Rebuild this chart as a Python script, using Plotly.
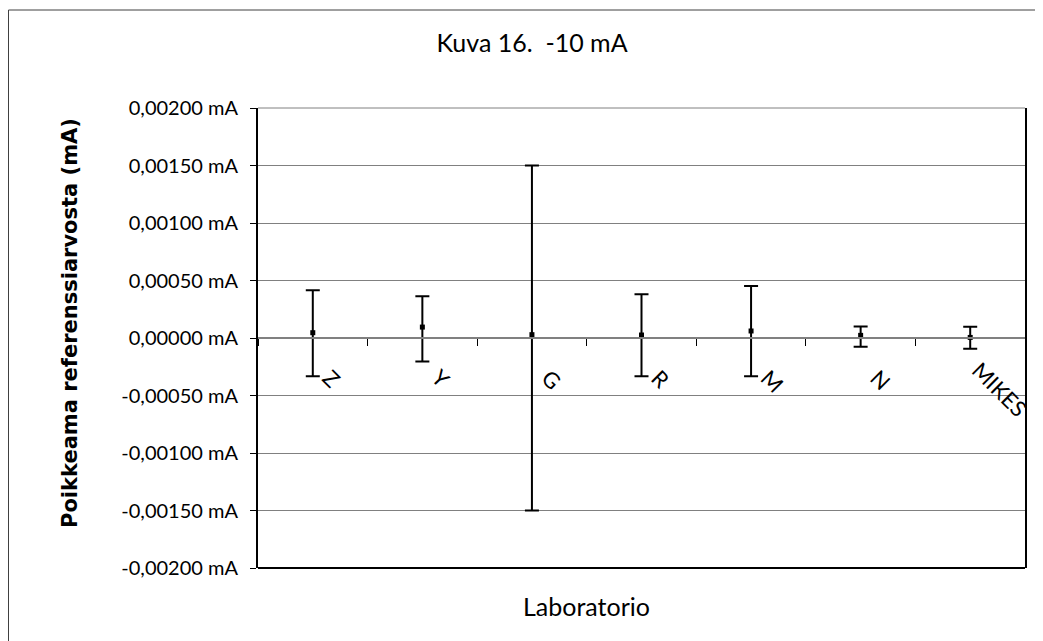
import plotly.graph_objects as go

labs = ["Z", "Y", "G", "R", "M", "N", "MIKES"]
vals = [0.000046, 0.000095, 0.000029, 0.000026, 0.000061, 0.000023, 0.000005]
err_plus = [0.000370, 0.000269, 0.001471, 0.000355, 0.000392, 0.000076, 0.000093]
err_minus = [0.000378, 0.000300, 0.001529, 0.000358, 0.000393, 0.000098, 0.000098]

ytick_vals = [0.002, 0.0015, 0.001, 0.0005, 0.0, -0.0005, -0.001, -0.0015, -0.002]
ytick_text = ["0,00200 mA", "0,00150 mA", "0,00100 mA", "0,00050 mA", "0,00000 mA",
              "-0,00050 mA", "-0,00100 mA", "-0,00150 mA", "-0,00200 mA"]

# page has an 8px body margin; size the figure so it fits the 1043x641 window
OFF = 8
W, H = 1043 - OFF, 641 - OFF
L, T = 258 - OFF, 108 - OFF
pw, ph = 767, 460
R = W - L - pw
B = H - T - ph

def px(x):  # page pixel x -> paper
    return (x - OFF - L) / pw

def py(y):  # page pixel y -> paper
    return (T + ph - (y - OFF)) / ph

fig = go.Figure()
fig.add_trace(go.Scatter(
    x=labs, y=vals, mode="markers",
    marker=dict(symbol="square", size=5, color="black"),
    error_y=dict(type="data", symmetric=False, array=err_plus, arrayminus=err_minus,
                 color="black", thickness=2, width=7),
    showlegend=False, hoverinfo="skip",
))
# invisible trace on the tick-only overlay axis
fig.add_trace(go.Scatter(x=labs, y=vals, xaxis="x2", mode="markers",
                         marker=dict(opacity=0), showlegend=False, hoverinfo="skip"))

fnt = "Lato, 'DejaVu Sans', sans-serif"
# leading spaces push the slanted labels off the tick, as in the reference
xtick_text = [("\u00a0" * (2 if len(s) > 1 else 4)) + s for s in labs]

fig.update_layout(
    width=W, height=H,
    margin=dict(l=L, r=R, t=T, b=B, autoexpand=False),
    paper_bgcolor="white", plot_bgcolor="white",
    font=dict(family=fnt, size=20, color="black"),
    title=dict(text="Kuva 16.\u00a0 -10 mA", x=(532 - OFF) / W, y=1 - (43 - OFF) / H,
               xanchor="center", yanchor="middle",
               font=dict(family=fnt, size=25, color="black")),
    xaxis=dict(
        type="category", range=[-0.5, 6.5], automargin=False,
        tickvals=labs, ticktext=xtick_text,
        anchor="free", position=0.5,
        showline=True, linecolor="#808080", linewidth=1.5,
        showgrid=False, zeroline=False,
        ticks="", ticklen=0,
        tickangle=45, ticklabelstandoff=2,
        tickfont=dict(family=fnt, size=22, color="black"),
    ),
    xaxis2=dict(
        type="category", range=[-0.5, 6.5], overlaying="x", matches="x", automargin=False,
        anchor="free", position=0.5, side="bottom",
        showline=False, showgrid=False, zeroline=False, showticklabels=False,
        ticks="outside", tickson="boundaries", ticklen=7, tickcolor="black", tickwidth=1,
    ),
    yaxis=dict(
        range=[-0.002, 0.002], tickvals=ytick_vals, ticktext=ytick_text, automargin=False,
        showline=True, linecolor="black", linewidth=2, mirror=True,
        showgrid=True, gridcolor="#808080", gridwidth=1, zeroline=False,
        ticks="outside", ticklen=6, tickcolor="black", tickwidth=1,
        ticklabelstandoff=8,
        tickfont=dict(family=fnt, size=20, color="black"),
    ),
    shapes=[
        dict(type="line", xref="paper", yref="paper", x0=0, x1=1, y0=0, y1=0,
             line=dict(color="black", width=2)),
        dict(type="line", xref="paper", yref="paper", x0=0, x1=1, y0=1, y1=1,
             line=dict(color="#808080", width=1)),
        dict(type="rect", xref="paper", yref="paper",
             x0=px(8.5), x1=px(1039), y0=py(660), y1=py(10),
             line=dict(color="#404040", width=1), fillcolor="rgba(0,0,0,0)", layer="below"),
    ],
    annotations=[
        dict(text="Laboratorio", xref="paper", yref="paper", x=px(586), y=py(606),
             xanchor="center", yanchor="middle", showarrow=False,
             font=dict(family=fnt, size=25, color="black")),
        dict(text="Poikkeama referenssiarvosta (mA)", xref="paper", yref="paper",
             x=px(70), y=py(323), xanchor="center", yanchor="middle", showarrow=False,
             textangle=-90,
             font=dict(family="'DejaVu Sans', sans-serif", size=21, color="black", weight="bold")),
    ],
)

fig.write_html("out.html")
